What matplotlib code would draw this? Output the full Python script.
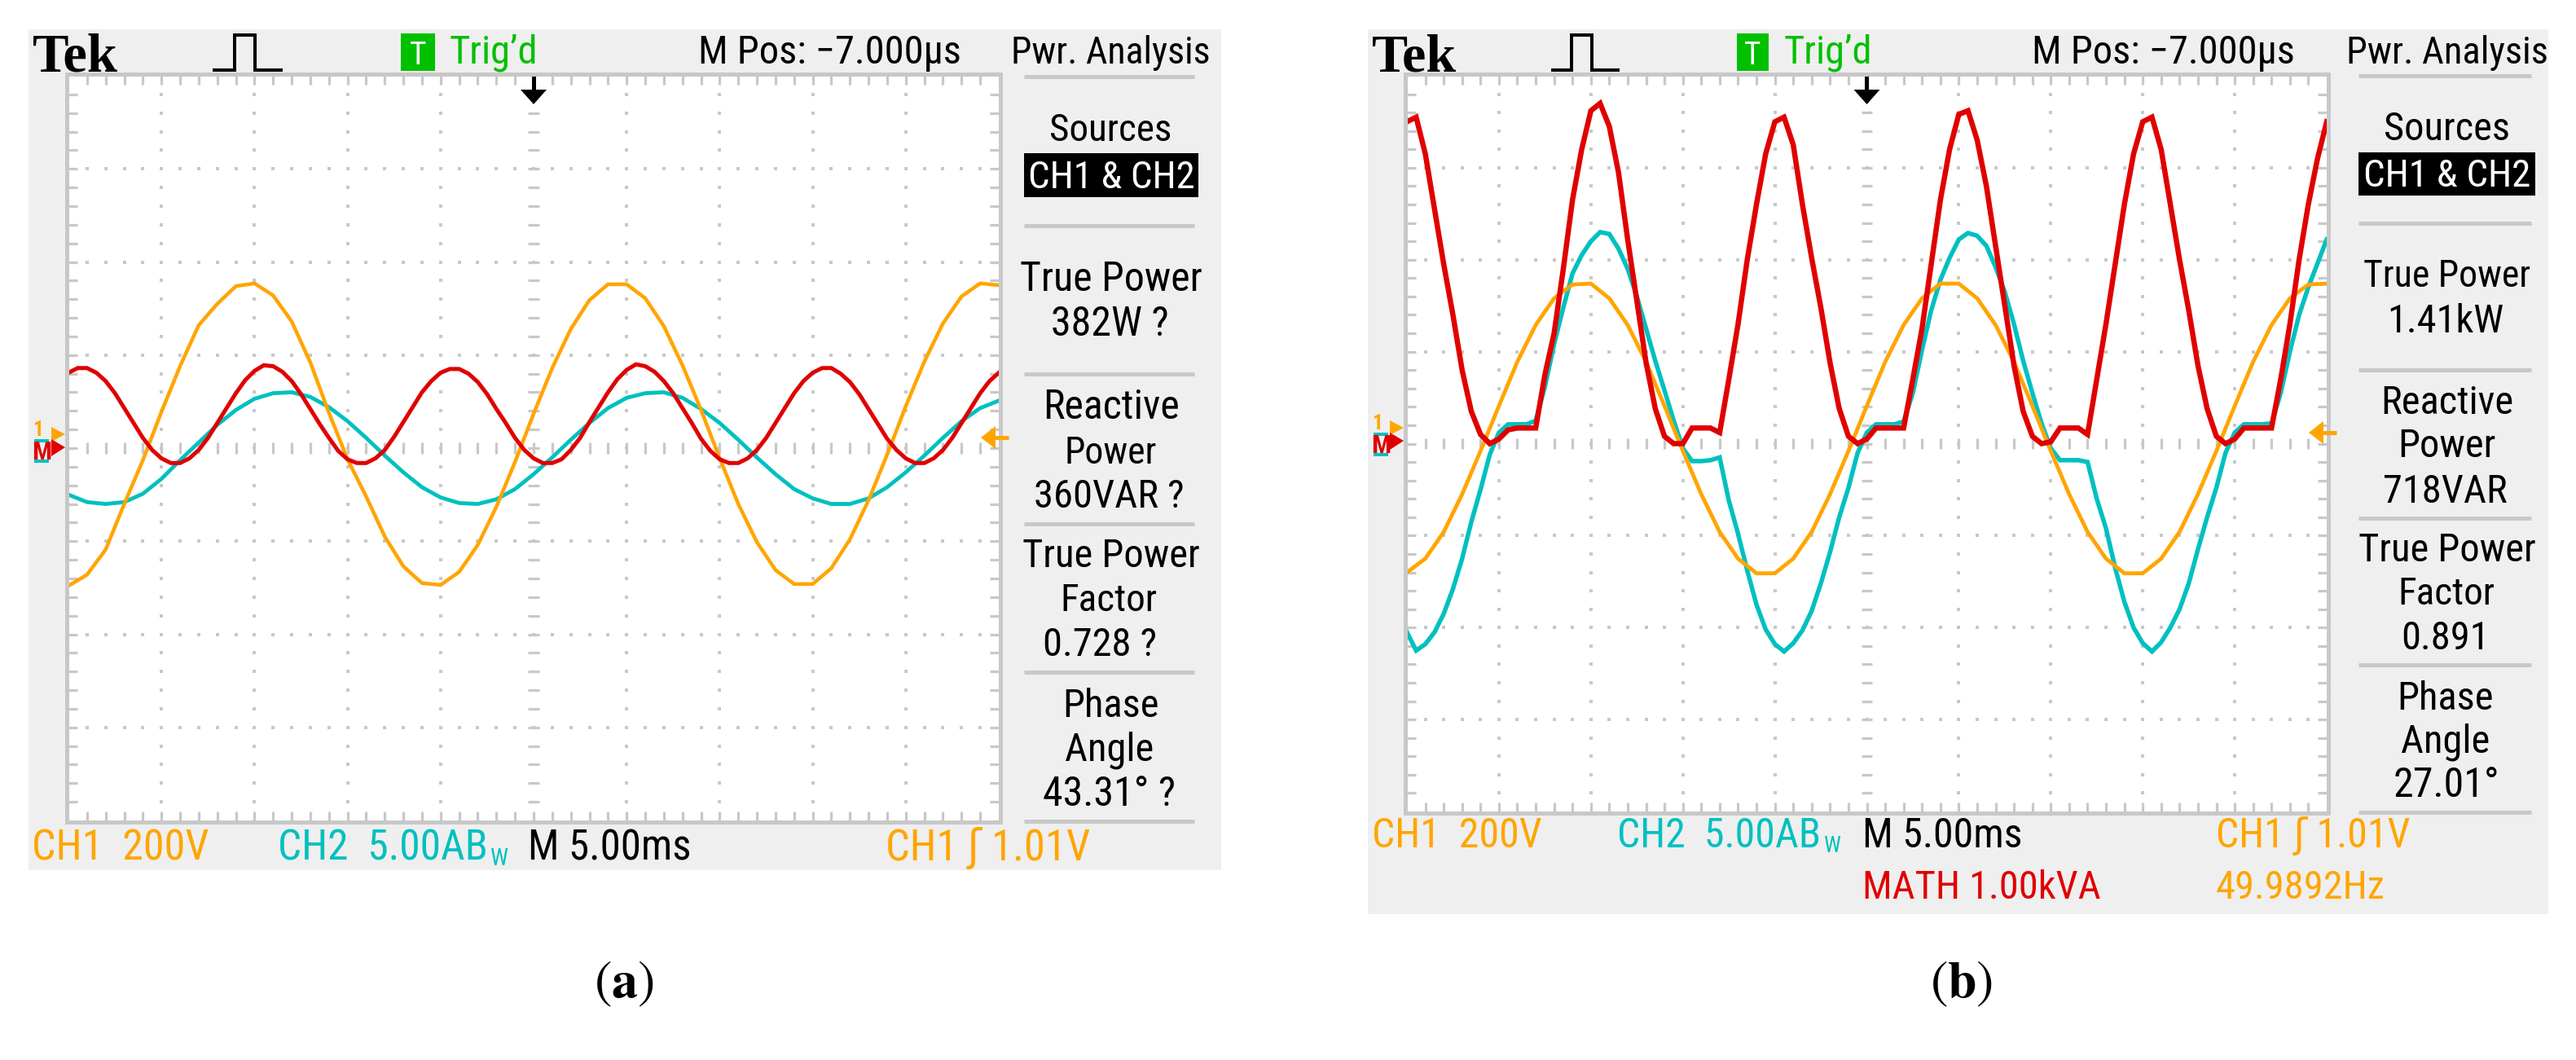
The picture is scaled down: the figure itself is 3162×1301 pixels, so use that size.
import numpy as np
import matplotlib
matplotlib.use('Agg')
import matplotlib.pyplot as plt
from matplotlib.patches import Rectangle, Polygon
from matplotlib import font_manager as fm

# ---------------------------------------------------------------- data
# Values are in screen divisions (x: 0..10 div at 5 ms/div, y: -4..4 div)
# Panel (a)
a_t_coarse = [round(0.2 * i, 1) for i in range(51)]
a_ch1_volt = [-1.48, -1.36, -1.09, -0.60, -0.13, 0.39, 0.88, 1.32, 1.55, 1.74,
              1.77, 1.64, 1.36, 0.92, 0.38, -0.12, -0.52, -0.95, -1.27, -1.45,
              -1.47, -1.33, -1.04, -0.63, -0.15, 0.37, 0.86, 1.28, 1.59, 1.76,
              1.76, 1.61, 1.31, 0.89, 0.41, -0.11, -0.60, -1.01, -1.31, -1.46,
              -1.46, -1.29, -0.98, -0.56, -0.07, 0.45, 0.93, 1.34, 1.63, 1.77, 1.75]
a_ch2_curr = [-0.50, -0.58, -0.60, -0.58, -0.49, -0.33, -0.13, 0.06, 0.25, 0.41,
              0.53, 0.59, 0.60, 0.55, 0.44, 0.29, 0.11, -0.08, -0.26, -0.42,
              -0.53, -0.59, -0.60, -0.55, -0.44, -0.28, -0.10, 0.09, 0.27, 0.43,
              0.54, 0.59, 0.60, 0.54, 0.42, 0.27, 0.09, -0.10, -0.28, -0.44,
              -0.54, -0.60, -0.60, -0.54, -0.42, -0.26, -0.08, 0.11, 0.29, 0.43, 0.51]
a_t_fine = [round(0.1 * i, 1) for i in range(101)]
a_math_power = [0.81, 0.86, 0.86, 0.81, 0.72, 0.59, 0.43, 0.27, 0.11, -0.02,
                -0.11, -0.16, -0.16, -0.11, -0.02, 0.11, 0.27, 0.43, 0.59, 0.73,
                0.83, 0.89, 0.88, 0.82, 0.72, 0.58, 0.42, 0.26, 0.11, -0.03,
                -0.12, -0.16, -0.16, -0.11, -0.02, 0.12, 0.28, 0.44, 0.60, 0.72,
                0.81, 0.85, 0.85, 0.80, 0.71, 0.58, 0.42, 0.27, 0.11, -0.02,
                -0.11, -0.16, -0.16, -0.12, -0.02, 0.11, 0.28, 0.44, 0.60, 0.74,
                0.84, 0.90, 0.88, 0.82, 0.72, 0.59, 0.43, 0.27, 0.10, -0.03,
                -0.12, -0.16, -0.16, -0.11, -0.02, 0.11, 0.27, 0.43, 0.59, 0.72,
                0.81, 0.86, 0.86, 0.80, 0.71, 0.58, 0.42, 0.26, 0.10, -0.02,
                -0.11, -0.16, -0.16, -0.11, -0.02, 0.11, 0.27, 0.43, 0.59, 0.72, 0.81]

# Panel (b)
b_t_coarse = [round(0.2 * i, 1) for i in range(51)]
b_ch1_volt = [-1.40, -1.25, -0.96, -0.55, -0.08, 0.41, 0.89, 1.29, 1.58, 1.73,
              1.74, 1.58, 1.29, 0.89, 0.41, -0.08, -0.55, -0.96, -1.25, -1.41,
              -1.41, -1.25, -0.96, -0.55, -0.08, 0.41, 0.89, 1.29, 1.58, 1.74,
              1.74, 1.58, 1.29, 0.89, 0.41, -0.08, -0.55, -0.96, -1.25, -1.41,
              -1.41, -1.25, -0.96, -0.55, -0.08, 0.41, 0.89, 1.29, 1.58, 1.73, 1.74]
b_t_fine = [round(0.1 * i, 1) for i in range(101)]
b_ch2_curr = [-2.05,
              -2.25, -2.18, -2.05, -1.85, -1.58, -1.25, -0.85, -0.50, -0.12, 0.12,
              0.21, 0.21, 0.21, 0.25, 0.62, 1.08, 1.48, 1.85, 2.05, 2.20,
              2.30, 2.28, 2.12, 1.90, 1.60, 1.25, 0.90, 0.58, 0.25, -0.05,
              -0.19, -0.19, -0.18, -0.15, -0.62, -0.98, -1.38, -1.75, -2.02, -2.18,
              -2.26, -2.17, -2.03, -1.82, -1.52, -1.18, -0.80, -0.48, -0.10, 0.12,
              0.21, 0.21, 0.21, 0.24, 0.55, 1.02, 1.45, 1.78, 2.02, 2.22,
              2.29, 2.26, 2.15, 1.92, 1.65, 1.30, 0.90, 0.55, 0.22, -0.05,
              -0.18, -0.18, -0.18, -0.20, -0.60, -0.92, -1.35, -1.72, -2.00, -2.17,
              -2.26, -2.16, -2.00, -1.80, -1.52, -1.15, -0.80, -0.48, -0.10, 0.12,
              0.21, 0.21, 0.21, 0.22, 0.55, 1.00, 1.40, 1.70, 1.96, 2.22]
b_math_power = [3.50, 3.55, 3.15, 2.55, 1.95, 1.40, 0.80, 0.35, 0.10, 0.00,
                0.05, 0.15, 0.17, 0.17, 0.17, 0.75, 1.20, 1.90, 2.65, 3.20,
                3.62, 3.70, 3.45, 2.95, 2.22, 1.55, 0.88, 0.38, 0.08, 0.00,
                0.00, 0.17, 0.17, 0.17, 0.12, 0.70, 1.30, 2.00, 2.60, 3.15,
                3.50, 3.55, 3.25, 2.60, 2.02, 1.48, 0.88, 0.38, 0.08, 0.00,
                0.05, 0.17, 0.17, 0.17, 0.17, 0.70, 1.25, 1.95, 2.65, 3.20,
                3.58, 3.62, 3.30, 2.80, 2.15, 1.50, 0.85, 0.35, 0.08, 0.00,
                0.02, 0.17, 0.17, 0.17, 0.10, 0.70, 1.30, 1.95, 2.60, 3.15,
                3.50, 3.55, 3.20, 2.60, 2.00, 1.45, 0.85, 0.38, 0.08, 0.00,
                0.05, 0.17, 0.17, 0.17, 0.17, 0.70, 1.30, 2.00, 2.60, 3.10, 3.50]

# read-outs
a_values = ["382W ?", "360VAR ?", "0.728 ?", "43.31° ?"]
b_values = ["1.41kW", "718VAR", "0.891", "27.01°"]

# ---------------------------------------------------------------- style
W, H, DPI = 3162, 1301, 100
ORANGE = '#FFA500'
CYAN = '#00C0C0'
RED = '#E00000'
GREEN = '#00C000'
GRID = '#C8C8C8'
PANEL = '#EFEFEF'
PX = 72.0 / DPI

fonts = fm.fontManager.ttflist
names = {f.name for f in fonts}
STRETCH = 'normal'
if 'Liberation Sans Narrow' in names:
    SANS = ['Liberation Sans Narrow', 'DejaVu Sans']
elif 'Roboto Condensed' in names:
    SANS = ['Roboto Condensed', 'DejaVu Sans']
elif any(f.name == 'DejaVu Sans' and f.stretch == 'condensed' for f in fonts):
    SANS = ['DejaVu Sans']
    STRETCH = 'condensed'
elif 'Roboto' in names:
    SANS = ['Roboto', 'DejaVu Sans']
else:
    SANS = ['DejaVu Sans']
SERIF = ['Liberation Serif', 'DejaVu Serif']
plt.rcParams['mathtext.fontset'] = 'stix'

fig = plt.figure(figsize=(W / DPI, H / DPI), dpi=DPI)
fig.patch.set_facecolor('white')
R = fig.canvas.get_renderer()

bg = fig.add_axes([0, 0, 1, 1])
bg.set_xlim(0, W); bg.set_ylim(H, 0); bg.set_axis_off()

# panel geometry (pixels)
PA = dict(bg=(35, 1499, 36, 1068), grid=(84, 1226, 93, 1007),
          div_x=(1257, 1466), divs=[94, 277, 459, 643, 825, 1008])
PB = dict(bg=(1679, 3128, 36, 1122), grid=(1727, 2856, 93, 996),
          div_x=(2895, 3107), divs=[93, 274, 454, 636, 816, 997])

for P in (PA, PB):
    x0, x1, y0, y1 = P['bg']
    bg.add_patch(Rectangle((x0, y0), x1 - x0, y1 - y0, fc=PANEL, ec='none'))
    gx0, gx1, gy0, gy1 = P['grid']
    bg.add_patch(Rectangle((gx0, gy0), gx1 - gx0, gy1 - gy0, fc='white', ec='none'))


def screen(P):
    gx0, gx1, gy0, gy1 = P['grid']
    ax = fig.add_axes([gx0 / W, 1 - gy1 / H, (gx1 - gx0) / W, (gy1 - gy0) / H])
    ax.set_xlim(0, 10); ax.set_ylim(-4, 4); ax.set_axis_off()
    mx = np.arange(1, 50) * 0.2
    my = np.arange(1, 40) * 0.2 - 4
    for xv in [1, 2, 3, 4, 6, 7, 8, 9]:
        ax.plot(np.full_like(my, xv), my, ls='none', marker='s', ms=2.4, mew=0, color=GRID)
    for yv in [-3, -2, -1, 1, 2, 3]:
        ax.plot(mx, np.full_like(mx, yv), ls='none', marker='s', ms=2.4, mew=0, color=GRID)
    ax.hlines(my, 5 - 0.06, 5 + 0.06, color=GRID, lw=3.2 * PX)
    ax.vlines(mx, -0.06, 0.06, color=GRID, lw=3.2 * PX)
    ax.vlines(mx, 4 - 0.1, 4, color=GRID, lw=3.2 * PX)
    ax.vlines(mx, -4, -4 + 0.1, color=GRID, lw=3.2 * PX)
    ax.hlines(my, 0, 0.1, color=GRID, lw=3.2 * PX)
    ax.hlines(my, 10 - 0.1, 10, color=GRID, lw=3.2 * PX)
    return ax


axa = screen(PA)
axa.plot(a_t_coarse, a_ch2_curr, color=CYAN, lw=4.8 * PX, solid_joinstyle='miter')
axa.plot(a_t_coarse, a_ch1_volt, color=ORANGE, lw=4.5 * PX, solid_joinstyle='miter')
axa.plot(a_t_fine, a_math_power, color=RED, lw=5.0 * PX, solid_joinstyle='miter')

axb = screen(PB)
axb.plot(b_t_fine, b_ch2_curr, color=CYAN, lw=5.5 * PX, solid_joinstyle='miter')
axb.plot(b_t_coarse, b_ch1_volt, color=ORANGE, lw=4.8 * PX, solid_joinstyle='miter')
axb.plot(b_t_fine, b_math_power, color=RED, lw=6.5 * PX, solid_joinstyle='miter')

ov = fig.add_axes([0, 0, 1, 1])
ov.set_xlim(0, W); ov.set_ylim(H, 0); ov.set_axis_off()
ov.patch.set_visible(False)


def label(s, x0, x1, ytop, ybot, color='black', ha='center', family=None,
          weight='normal', cap=0.72, over=1.15, hfac=0.97):
    fam = family or SANS
    fs = (ybot - ytop) / cap * PX * hfac
    x = {'left': x0, 'right': x1, 'center': 0.5 * (x0 + x1)}[ha]
    t = ov.text(x, ybot, s, ha=ha, va='baseline', color=color, fontsize=fs,
                family=fam, fontweight=weight,
                fontstretch=(STRETCH if fam is SANS else 'normal'))
    w = t.get_window_extent(renderer=R).width
    lim = (x1 - x0) * over
    if w > lim:
        t.set_fontsize(fs * lim / w)
    return t


def header(P, tek, pulse, gbox, trig, mpos, pwr):
    label("Tek", tek[0], tek[1], 42, 87, family=SERIF, weight='bold', cap=0.66,
          ha='left', over=1.0, hfac=1.0)
    p0, p1, p2, p3 = pulse
    ov.plot([p0, p1, p1, p2, p2, p3], [86, 86, 43, 43, 86, 86], color='black',
            lw=4 * PX, solid_joinstyle='miter')
    ov.add_patch(Rectangle((gbox[0], 41), gbox[1] - gbox[0], 46, fc=GREEN, ec='none'))
    label("T", gbox[0] + 9, gbox[1] - 9, 50, 79, color='white', over=1.3)
    label("Trig\u2019d", trig[0], trig[1], 42, 78, color=GREEN, ha='left')
    label("M Pos: \u22127.000\u03bcs", mpos[0], mpos[1], 42, 78, ha='left', over=1.05)
    label("Pwr. Analysis", pwr[0], pwr[1], 42, 78, ha='left', over=1.02)
    # trigger position arrow
    xc = 0.5 * (P['grid'][0] + P['grid'][1])
    ov.add_patch(Rectangle((xc - 2.5, 93), 5, 19, fc='black', ec='none'))
    ov.add_patch(Polygon([(xc - 16, 110), (xc + 16, 110), (xc, 128)], closed=True,
                         fc='black', ec='none'))
    # graticule border
    gx0, gx1, gy0, gy1 = P['grid']
    ov.add_patch(Rectangle((gx0 - 2, gy0 - 2), gx1 - gx0 + 4, gy1 - gy0 + 4,
                           fill=False, ec=GRID, lw=5 * PX))
    # dividers
    for y in P['divs']:
        ov.plot(P['div_x'], [y, y], color=GRID, lw=5 * PX, solid_capstyle='butt')


header(PA, (40, 145), (263, 288, 313, 345), (492, 534), (552, 658), (857, 1170), (1241, 1481))
header(PB, (1684, 1788), (1906, 1929, 1954, 1986), (2132, 2171), (2190, 2295), (2494, 2808), (2880, 3123))


# channel markers at left, trigger level at right
def markers(P, yc, xl):
    gx0, gx1, gy0, gy1 = P['grid']
    # cyan channel-2 ground marker (mostly hidden behind the MATH marker)
    ov.plot([xl + 18, xl + 4, xl + 4, xl + 18], [yc + 5, yc + 5, yc + 30, yc + 30],
            color=CYAN, lw=4 * PX, solid_joinstyle='miter')
    label("1", xl, xl + 13, yc - 20, yc - 1, color=ORANGE, weight='bold', over=1.3)
    label("M", xl, xl + 22, yc + 4, yc + 28, color=RED, weight='bold', over=1.1)
    ov.add_patch(Polygon([(gx0 - 21, yc - 12), (gx0 - 21, yc + 6), (gx0 - 4, yc - 3)],
                         closed=True, fc=ORANGE, ec='none'))
    ov.add_patch(Polygon([(gx0 - 21, yc + 3), (gx0 - 21, yc + 24), (gx0 - 4, yc + 13)],
                         closed=True, fc=RED, ec='none'))


markers(PA, 536, 40)
markers(PB, 528, 1684)
for P, yl in ((PA, 537), (PB, 531)):
    xr = P['grid'][1]
    ov.add_patch(Polygon([(xr - 22, yl), (xr - 4, yl - 14), (xr - 4, yl + 14)],
                         closed=True, fc=ORANGE, ec='none'))
    ov.plot([xr - 8, xr + 12], [yl, yl], color=ORANGE, lw=5 * PX, solid_capstyle='butt')


# info panels
def info(box, lines):
    bx0, bx1, by0, by1 = box
    ov.add_patch(Rectangle((bx0, by0), bx1 - bx0, by1 - by0, fc='black', ec='none'))
    for (s, x0, x1, yt, yb) in lines:
        col = 'white' if s == "CH1 & CH2" else 'black'
        ov_lim = 1.0 if s == "CH1 & CH2" else 1.18
        label(s, x0, x1, yt, yb, color=col, over=ov_lim)


a_lines = [("Sources", 1292, 1435, 138, 173), ("CH1 & CH2", 1262, 1466, 196, 231),
           ("True Power", 1261, 1467, 320, 357), (a_values[0], 1297, 1427, 375, 412),
           ("Reactive", 1278, 1450, 477, 514), ("Power", 1310, 1417, 535, 569),
           (a_values[1], 1273, 1450, 587, 623), ("True Power", 1261, 1467, 660, 696),
           ("Factor", 1300, 1422, 715, 750), (a_values[2], 1287, 1413, 769, 805),
           ("Phase", 1309, 1417, 844, 880), ("Angle", 1300, 1424, 898, 934),
           (a_values[3], 1287, 1437, 952, 989)]
b_lines = [("Sources", 2932, 3076, 136, 172), ("CH1 & CH2", 2900, 3108, 194, 229),
           ("True Power", 2900, 3108, 318, 352), (b_values[0], 2937, 3066, 372, 408),
           ("Reactive", 2917, 3091, 472, 508), ("Power", 2950, 3056, 525, 561),
           (b_values[1], 2932, 3070, 581, 617), ("True Power", 2900, 3108, 653, 689),
           ("Factor", 2948, 3058, 707, 742), (b_values[2], 2955, 3048, 761, 797),
           ("Phase", 2950, 3054, 835, 871), ("Angle", 2942, 3062, 888, 924),
           (b_values[3], 2945, 3060, 941, 978)]
info((1257, 1471, 188, 242), a_lines)
info((2895, 3112, 187, 240), b_lines)


# bottom status lines
def status(yt, yb, items):
    for s, x0, x1, col in items:
        label(s, x0, x1, yt, yb, color=col, ha='left', over=1.12)


def ch2_label(x0, x1, yt, yb):
    t = label("CH2  5.00AB", x0, x1, yt, yb, color=CYAN, ha='left', over=1.12)
    bb = t.get_window_extent(renderer=R)
    xe = bb.x1 + 3  # display px == figure px here (x not inverted)
    hh = (yb - yt) * 0.55
    label("W", xe, xe + 22, yb + 6 - hh, yb + 6, color=CYAN, ha='left', over=1.3)


status(1017, 1056, [("CH1  200V", 39, 233, ORANGE),
                    ("M 5.00ms", 648, 827, 'black'), ("CH1 \u0283 1.01V", 1087, 1332, ORANGE)])
ch2_label(341, 571, 1017, 1056)
status(1003, 1040, [("CH1  200V", 1684, 1878, ORANGE),
                    ("M 5.00ms", 2286, 2465, 'black'), ("CH1 \u0283 1.01V", 2720, 2965, ORANGE)])
ch2_label(1985, 2209, 1003, 1040)
status(1067, 1103, [("MATH 1.00kVA", 2286, 2562, RED), ("49.9892Hz", 2720, 2907, ORANGE)])

# captions
ov.text(766, 1207, r'$(\mathbf{a})$', ha='center', va='center', fontsize=46, color='black')
ov.text(2408, 1207, r'$(\mathbf{b})$', ha='center', va='center', fontsize=46, color='black')

fig.savefig('out.png', dpi=DPI, facecolor='white')
